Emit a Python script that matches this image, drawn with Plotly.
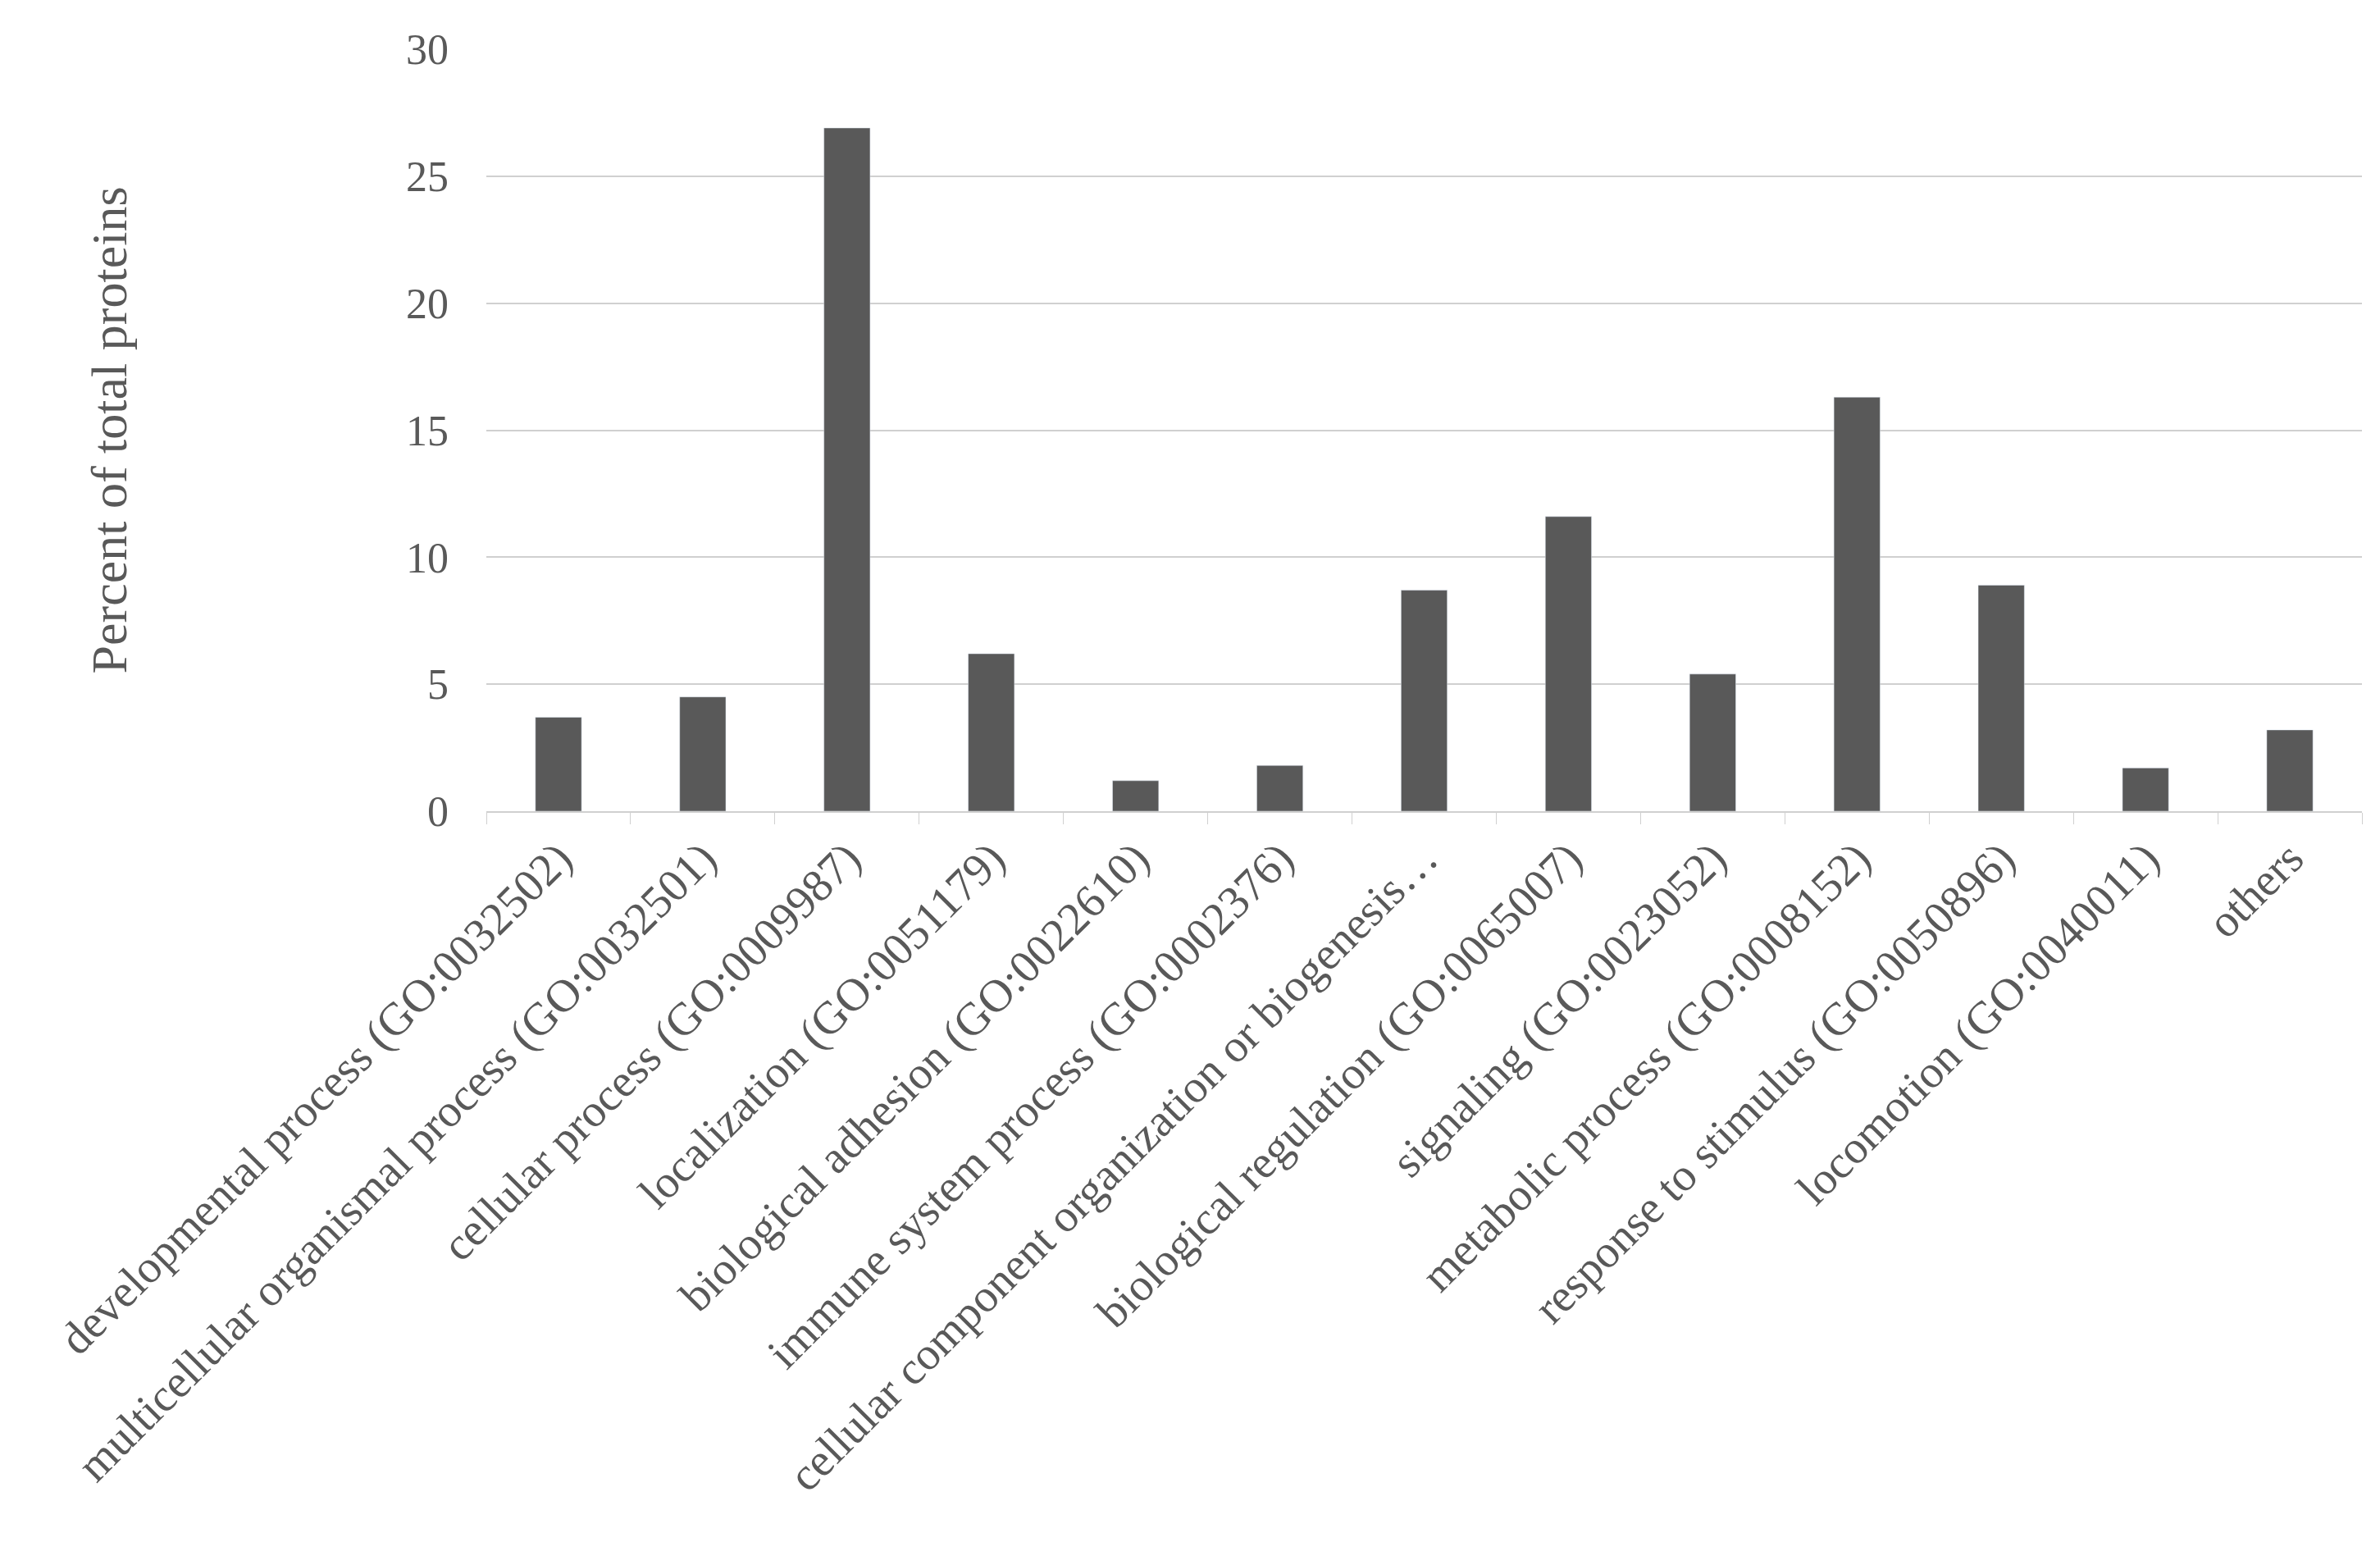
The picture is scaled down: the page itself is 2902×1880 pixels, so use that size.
import plotly.graph_objects as go

categories = ["developmental process (GO:0032502)", "multicellular organismal process (GO:0032501)",
              "cellular process (GO:0009987)", "localization (GO:0051179)", "biological adhesion (GO:0022610)",
              "immune system process (GO:0002376)", "cellular component organization or biogenesis…",
              "biological regulation (GO:0065007)", "signaling (GO:0023052)", "metabolic process (GO:0008152)",
              "response to stimulus (GO:0050896)", "locomotion (GO:0040011)", "others"]
values = [3.7, 4.5, 26.9, 6.2, 1.2, 1.8, 8.7, 11.6, 5.4, 16.3, 8.9, 1.7, 3.2]
yticks = [0, 5, 10, 15, 20, 25, 30]

font = "Liberation Serif"
fig = go.Figure(go.Bar(x=categories, y=values, marker_color="#595959", width=0.32))
fig.update_layout(
    width=2902, height=1880, plot_bgcolor="white", paper_bgcolor="white",
    margin=dict(l=585, r=30, t=52, b=1880-981, autoexpand=False),
    font=dict(family=font, size=52, color="#595959"), showlegend=False,
    xaxis=dict(tickangle=-45, showline=True, linecolor="#d0d0d0", linewidth=2,
               ticks="outside", tickson="boundaries", ticklen=14, tickcolor="#d0d0d0",
               showgrid=False, automargin=False, tickfont=dict(size=56)),
    yaxis=dict(range=[0, 30], tickvals=yticks, showgrid=True, gridcolor="#d0d0d0", gridwidth=2,
               zeroline=False, ticks="", automargin=False, ticklabelstandoff=45,
               title=dict(text="Percent of total proteins", standoff=320)),
)
fig.write_html("out.html")
